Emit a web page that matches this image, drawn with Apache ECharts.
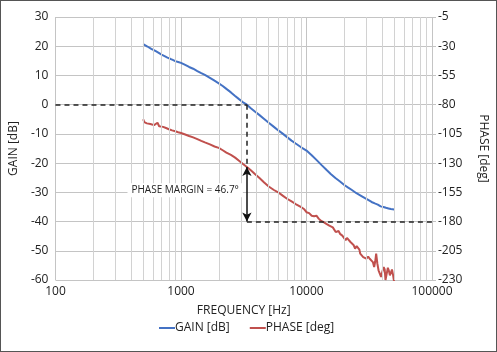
<!DOCTYPE html>
<html>
<head>
<meta charset="utf-8">
<script src="https://cdn.jsdelivr.net/npm/echarts@6/dist/echarts.min.js"></script>
<style>
html,body{margin:0;padding:0;background:#fff;}
#frame{width:497px;height:352px;box-sizing:border-box;border:1px solid #555;position:relative;overflow:hidden;}
#chart{position:absolute;left:-1px;top:-1px;width:497px;height:352px;}
</style>
</head>
<body>
<div id="frame"><div id="chart"></div></div>
<script>
// ---- data ----
const gainFreq = [500,520,540,560,580,600,630,660,700,740,780,820,860,900,950,1000,1080,1160,1250,1350,1450,1550,1700,1850,2000,2150,2300,2500,2700,2900,3100,3350,3600,3900,4200,4600,5000,5500,6000,6500,7000,7600,8200,9000,10000,11000,12000,13200,14400,15600,17000,18500,20000,21500,23000,25000,27000,29000,31000,33000,35000,37000,39000,41000,43000,45000,47000,50000];
const gainDb = [20.7,20.3,19.9,19.6,19.1,18.8,18.3,17.8,17.1,16.6,16.1,15.7,15.3,14.9,14.6,14.3,13.6,12.9,12.3,11.5,10.8,10.2,9.2,8.2,7.3,6.4,5.4,4.2,3.0,1.9,0.9,0.0,-1.2,-2.4,-3.5,-4.9,-6.2,-7.6,-8.9,-10.0,-11.1,-12.3,-13.3,-14.5,-15.7,-17.3,-18.9,-20.7,-22.3,-23.7,-25.1,-26.3,-27.5,-28.4,-29.2,-30.3,-31.1,-31.9,-32.6,-33.3,-33.8,-34.2,-34.8,-35.0,-35.3,-35.5,-35.7,-35.9];

const phaseFreq = [500,510,520,535,550,570,590,610,630,650,670,690,720,760,800,850,900,950,1000,1080,1160,1250,1350,1450,1550,1700,1850,2000,2150,2300,2500,2700,2900,3100,3350,3600,3900,4200,4600,5000,5500,6000,6500,7000,7600,8200,9000,9600,10000,10500,11000,11500,12000,12500,13100,13700,14400,15200,16200,17100,18000,18500,19300,20000,20500,21000,21700,22400,23100,23700,24400,25100,25900,26400,26800,27500,28300,29000,30000,31000,31900,32600,33800,34600,35300,35900,36700,37500,38500,39300,40200,41200,42000,42600,43500,44500,45300,46200,47100,48000,49000,49800];
const phaseDeg = [-92.5,-95.0,-94.0,-96.0,-95.0,-96.5,-95.5,-97.5,-96.0,-95.5,-98.5,-98.0,-99.0,-100.0,-101.0,-102.0,-102.8,-103.6,-104.2,-105.5,-106.8,-108.0,-109.5,-111.0,-112.3,-114.0,-115.8,-117.0,-119.0,-121.0,-123.0,-125.3,-128.0,-130.5,-133.3,-136.2,-139.5,-142.5,-146.5,-150.0,-153.0,-155.3,-158.0,-160.5,-162.8,-165.0,-167.5,-169.5,-172.0,-172.8,-175.0,-175.5,-175.0,-177.5,-179.5,-180.5,-182.0,-183.5,-185.0,-189.0,-188.0,-190.5,-192.0,-193.0,-196.0,-194.0,-194.7,-197.5,-197.6,-200.0,-203.2,-201.0,-200.4,-204.0,-207.5,-206.0,-210.4,-209.0,-211.8,-210.0,-211.8,-210.4,-214.7,-218.9,-214.0,-207.5,-216.0,-221.7,-223.0,-227.4,-223.0,-219.0,-221.0,-230.0,-225.0,-219.5,-222.0,-226.0,-224.5,-221.0,-226.0,-231.0];

const minorFreqs = [200,300,400,500,600,700,800,900,2000,3000,4000,5000,6000,7000,8000,9000,20000,30000,40000,50000,60000,70000,80000,90000];
const crossFreq = 3350;
const phaseAtCross = -133.3;
const marginLabel = 'PHASE MARGIN = 46.7°';
const labelPos = [1080, -29.3];

const FONT = 'Open Sans';
const TXT = '#222';

const chart = echarts.init(document.getElementById('chart'), null, {renderer:'canvas'});
const pairs = (xs, ys) => xs.map((x,i)=>[x, ys[i]]);
const dash = {color:'#222', width:1.5, type:[5,4]};

chart.setOption({
  animation:false,
  textStyle:{fontFamily:FONT, color:TXT},
  grid:{left:48, right:61, top:17, bottom:72},
  legend:{
    bottom:13, left:154,
    itemWidth:16, itemHeight:2, itemGap:20, icon:'rect',
    textStyle:{fontFamily:FONT, fontSize:12, color:TXT, padding:[0,0,0,-5]},
    data:['GAIN [dB]','PHASE [deg]']
  },
  xAxis:{
    type:'log', logBase:10, min:100, max:100000,
    name:'FREQUENCY [Hz]', nameLocation:'middle', nameGap:25,
    nameTextStyle:{fontFamily:FONT, fontSize:12, color:TXT},
    axisLine:{show:false}, axisTick:{show:false},
    axisLabel:{fontFamily:FONT, fontSize:12, color:TXT, margin:6, formatter:v=>String(Math.round(v))},
    splitLine:{show:true, lineStyle:{color:'#c4c4c4', width:1}}
  },
  yAxis:[{
    type:'value', min:-60, max:30, interval:10, position:'left',
    name:'GAIN [dB]', nameLocation:'middle', nameGap:31,
    nameTextStyle:{fontFamily:FONT, fontSize:12, color:TXT},
    axisLine:{show:false}, axisTick:{show:false},
    axisLabel:{fontFamily:FONT, fontSize:12, color:TXT, margin:7},
    splitLine:{show:true, lineStyle:{color:'#c4c4c4', width:1}}
  },{
    type:'value', min:-230, max:-5, interval:25, position:'right',
    name:'PHASE [deg]', nameLocation:'middle', nameGap:45, nameRotate:-90,
    nameTextStyle:{fontFamily:FONT, fontSize:12, color:TXT},
    axisLine:{show:false}, axisTick:{show:true, length:4, lineStyle:{color:'#c4c4c4'}},
    axisLabel:{fontFamily:FONT, fontSize:12, color:TXT, margin:6},
    splitLine:{show:false}
  }],
  series:[
    {
      name:'minor', type:'line', data:[], z:1, silent:true,
      markLine:{silent:true, symbol:['none','none'], label:{show:false},
        lineStyle:{color:'#d2d2d2', width:1, type:'solid'},
        data:minorFreqs.map(f=>({xAxis:f}))}
    },
    {
      name:'GAIN [dB]', type:'line', yAxisIndex:0, showSymbol:false, symbol:'none',
      data:pairs(gainFreq, gainDb), z:3,
      lineStyle:{color:'#4472C4', width:2}, itemStyle:{color:'#4472C4'},
      markLine:{silent:true, symbol:['none','none'], label:{show:false}, lineStyle:dash,
        data:[[{coord:[100,0]},{coord:[crossFreq,0]}]]},
      markPoint:{silent:true, symbol:'rect', symbolSize:0,
        data:[{coord:labelPos, value:0}],
        label:{show:true, formatter:marginLabel, fontFamily:FONT, fontSize:10, color:TXT,
          backgroundColor:'#fff', padding:[2,4], position:'inside'}}
    },
    {
      name:'PHASE [deg]', type:'line', yAxisIndex:1, showSymbol:false, symbol:'none',
      data:pairs(phaseFreq, phaseDeg), z:3,
      lineStyle:{color:'#C0504D', width:2}, itemStyle:{color:'#C0504D'},
      markLine:{silent:true, symbol:['none','none'], label:{show:false}, lineStyle:dash,
        data:[
          [{coord:[crossFreq,-80]},{coord:[crossFreq,phaseAtCross]}],
          [{coord:[crossFreq,-180]},{coord:[100000,-180]}],
          [{coord:[crossFreq,phaseAtCross], symbol:'arrow', symbolSize:[7,9], lineStyle:{type:'solid', width:1.5, color:'#111'}},
           {coord:[crossFreq,-180], symbol:'arrow', symbolSize:[7,9]}]
        ]}
    }
  ]
});
</script>
</body>
</html>
